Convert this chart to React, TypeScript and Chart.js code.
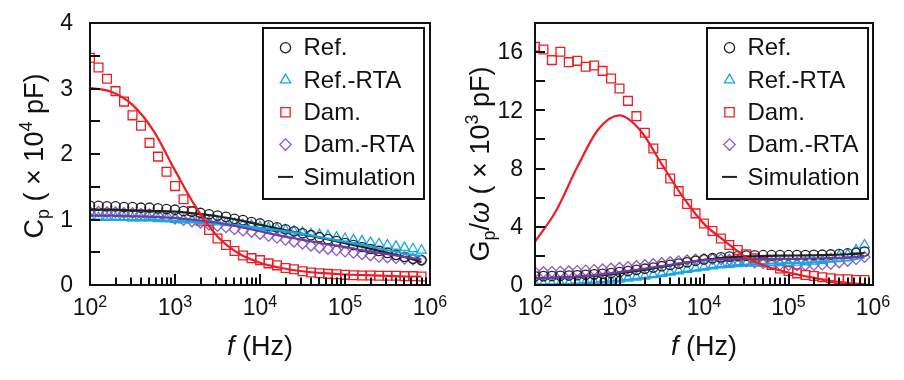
import React, { useEffect, useRef } from "react";
import { Chart, registerables } from "chart.js";

Chart.register(...registerables);

// ---------- data ----------
// measured frequencies (Hz), 10 points per decade
const FREQ = [
  100, 125.9, 158.5, 199.5, 251.2, 316.2, 398.1, 501.2, 631.0, 794.3,
  1000, 1259, 1585, 1995, 2512, 3162, 3981, 5012, 6310, 7943,
  10000, 12589, 15849, 19953, 25119, 31623, 39811, 50119, 63096, 79433,
  100000, 125893, 158489, 199526, 251189, 316228, 398107, 501187, 630957, 794328,
];
// simulation curve frequencies (Hz)
const LINE_FREQ = [
  100, 177.8, 316.2, 562.3, 1000, 1778, 3162, 5623, 10000, 17783, 31623, 56234,
  100000, 177828, 316228, 562341, 794328,
];

// Left panel: Cp (x10^4 pF)
const CP_REF = [
  1.21, 1.21, 1.2, 1.2, 1.19, 1.19, 1.18, 1.18, 1.17, 1.16,
  1.15, 1.13, 1.12, 1.1, 1.08, 1.06, 1.04, 1.01, 0.99, 0.96,
  0.94, 0.91, 0.88, 0.85, 0.82, 0.79, 0.76, 0.73, 0.7, 0.67,
  0.64, 0.61, 0.58, 0.55, 0.52, 0.49, 0.46, 0.43, 0.4, 0.38,
];
const CP_REF_RTA = [
  1.03, 1.03, 1.03, 1.03, 1.03, 1.02, 1.02, 1.02, 1.01, 1.01,
  1.0, 0.99, 0.99, 0.98, 0.97, 0.96, 0.95, 0.94, 0.92, 0.91,
  0.89, 0.87, 0.86, 0.84, 0.82, 0.8, 0.78, 0.77, 0.75, 0.73,
  0.71, 0.69, 0.67, 0.65, 0.63, 0.61, 0.59, 0.57, 0.55, 0.53,
];
const CP_DAM = [
  3.47, 3.32, 3.15, 2.96, 2.8, 2.59, 2.43, 2.17, 1.96, 1.73,
  1.51, 1.31, 1.13, 0.98, 0.84, 0.71, 0.61, 0.52, 0.45, 0.41,
  0.38, 0.33, 0.3, 0.26, 0.24, 0.21, 0.19, 0.18, 0.17, 0.165,
  0.155, 0.15, 0.145, 0.145, 0.14, 0.14, 0.14, 0.135, 0.135, 0.13,
];
const CP_DAM_RTA = [
  1.12, 1.12, 1.11, 1.11, 1.1, 1.1, 1.09, 1.08, 1.06, 1.04,
  1.01, 0.99, 0.97, 0.95, 0.92, 0.9, 0.88, 0.85, 0.83, 0.81,
  0.78, 0.75, 0.72, 0.69, 0.66, 0.63, 0.6, 0.57, 0.55, 0.53,
  0.51, 0.49, 0.47, 0.45, 0.43, 0.42, 0.41, 0.4, 0.39, 0.38,
];
const CP_SIM_REF = [1.15, 1.15, 1.14, 1.13, 1.12, 1.09, 1.05, 0.99, 0.92, 0.85, 0.78, 0.71, 0.64, 0.57, 0.49, 0.41, 0.35];
const CP_SIM_REF_RTA = [1.0, 1.0, 0.99, 0.99, 0.98, 0.96, 0.94, 0.91, 0.87, 0.83, 0.78, 0.72, 0.66, 0.6, 0.53, 0.47, 0.44];
const CP_SIM_DAM = [3.01, 2.95, 2.75, 2.35, 1.75, 1.18, 0.74, 0.48, 0.34, 0.26, 0.21, 0.18, 0.16, 0.15, 0.14, 0.13, 0.13];
const CP_SIM_DAM_RTA = [1.06, 1.06, 1.05, 1.04, 1.02, 0.99, 0.95, 0.89, 0.82, 0.75, 0.69, 0.63, 0.58, 0.52, 0.47, 0.42, 0.39];

// Right panel: Gp/omega (x10^3 pF)
const GW_REF = [
  0.6, 0.61, 0.62, 0.63, 0.65, 0.67, 0.7, 0.73, 0.77, 0.82,
  0.89, 0.96, 1.04, 1.12, 1.2, 1.29, 1.38, 1.47, 1.56, 1.66,
  1.76, 1.84, 1.9, 1.95, 1.99, 2.02, 2.04, 2.05, 2.05, 2.05,
  2.05, 2.06, 2.06, 2.07, 2.08, 2.1, 2.13, 2.17, 2.22, 2.3,
];
const GW_REF_RTA = [
  0.05, 0.07, 0.09, 0.11, 0.13, 0.16, 0.19, 0.23, 0.27, 0.32,
  0.38, 0.45, 0.52, 0.6, 0.69, 0.78, 0.87, 0.96, 1.05, 1.14,
  1.22, 1.3, 1.36, 1.41, 1.45, 1.48, 1.5, 1.51, 1.52, 1.52,
  1.53, 1.55, 1.58, 1.62, 1.68, 1.8, 2.0, 2.1, 2.4, 2.75,
];
const GW_DAM = [
  16.36, 16.18, 15.45, 16.02, 15.31, 15.4, 14.99, 15.08, 14.71, 14.19,
  13.5, 12.65, 11.6, 10.46, 9.38, 8.31, 7.32, 6.45, 5.56, 4.92,
  4.23, 3.71, 3.2, 2.75, 2.4, 2.11, 1.83, 1.6, 1.37, 1.14,
  0.96, 0.8, 0.69, 0.62, 0.53, 0.46, 0.39, 0.39, 0.34, 0.34,
];
const GW_DAM_RTA = [
  0.88, 0.89, 0.9, 0.92, 0.94, 0.97, 1.0, 1.04, 1.08, 1.13,
  1.18, 1.24, 1.3, 1.37, 1.44, 1.51, 1.58, 1.64, 1.7, 1.75,
  1.78, 1.78, 1.76, 1.73, 1.68, 1.62, 1.55, 1.49, 1.44, 1.4,
  1.37, 1.36, 1.36, 1.37, 1.4, 1.45, 1.55, 1.65, 1.78, 1.92,
];
const GW_SIM_REF = [0.47, 0.5, 0.56, 0.65, 0.8, 1.0, 1.25, 1.5, 1.72, 1.88, 1.96, 2.0, 2.02, 2.04, 2.07, 2.13, 2.2];
const GW_SIM_REF_RTA = [0.02, 0.05, 0.1, 0.18, 0.3, 0.45, 0.65, 0.88, 1.1, 1.28, 1.4, 1.46, 1.5, 1.53, 1.6, 1.72, 1.9];
const GW_SIM_DAM = [2.97, 5.1, 8.1, 10.7, 11.65, 10.6, 8.3, 6.05, 4.2, 3.0, 1.9, 1.25, 0.85, 0.55, 0.28, 0.12, 0.05];
const GW_SIM_DAM_RTA = [0.46, 0.5, 0.58, 0.7, 0.88, 1.08, 1.3, 1.52, 1.7, 1.78, 1.8, 1.8, 1.8, 1.82, 1.85, 1.9, 1.97];

const LEGEND_LABELS = ["Ref.", "Ref.-RTA", "Dam.", "Dam.-RTA", "Simulation"];
const X_TICK_VALUES = [100, 1000, 10000, 100000, 1000000];
const X_TICK_EXPONENTS = ["2", "3", "4", "5", "6"];
const X_TICK_BASE = "10";
const LEFT_Y_TICKS = [0, 1, 2, 3, 4];
const LEFT_Y_MINOR = [0.5, 1.5, 2.5, 3.5];
const RIGHT_Y_TICKS = [0, 4, 8, 12, 16];
const RIGHT_Y_MINOR = [2, 6, 10, 14];

// ---------- styles ----------
const FONT = '"Liberation Sans", Arial, Helvetica, sans-serif';
const BLACK = "#231f20";
const CYAN = "#17a6e2";
const RED = "#ee1c25";
const PURPLE_PT = "#8a5bbd";
const PURPLE_LINE = "#6e3b9f";
const CLEAR = "rgba(0,0,0,0)";

type Part = { t: string; size: number; italic?: boolean; dy?: number };
const fontOf = (p: Part) => `${p.italic ? "italic " : ""}${p.size}px ${FONT}`;
function partsWidth(ctx: CanvasRenderingContext2D, parts: Part[]) {
  let w = 0;
  for (const p of parts) {
    ctx.font = fontOf(p);
    w += ctx.measureText(p.t).width;
  }
  return w;
}
function drawParts(ctx: CanvasRenderingContext2D, parts: Part[], x: number, y: number) {
  for (const p of parts) {
    ctx.font = fontOf(p);
    ctx.fillText(p.t, x, y + (p.dy || 0));
    x += ctx.measureText(p.t).width;
  }
}

function pts(xs: number[], ys: number[]) {
  return ys.map((y, i) => ({ x: xs[i], y }));
}

const MARKERS = [
  { style: "circle", color: BLACK, r: 4.7 },
  { style: "triangle", color: CYAN, r: 5.5 },
  { style: "rect", color: RED, r: 6.2 },
  { style: "rectRot", color: PURPLE_PT, r: 5.3 },
];

function markerDs(label: string, data: number[], m: any) {
  return {
    label,
    data: pts(FREQ, data),
    showLine: false,
    pointStyle: m.style,
    pointRadius: m.r,
    pointBorderWidth: 1.3,
    pointBorderColor: m.color,
    pointBackgroundColor: CLEAR,
    borderColor: m.color,
    backgroundColor: CLEAR,
    order: 10,
  };
}
function lineDs(label: string, data: number[], color: string, order: number) {
  return {
    label,
    data: pts(LINE_FREQ, data),
    pointRadius: 0,
    borderColor: color,
    backgroundColor: CLEAR,
    borderWidth: 2.2,
    cubicInterpolationMode: "monotone",
    fill: false,
    order,
  };
}

type PanelSpec = {
  padding: { left: number; right: number; top: number; bottom: number };
  yMax: number;
  yTicks: number[];
  yMinor: number[];
  yLabelRight: number;
  title: Part[];
  titleX: number;
  titleY: number;
  legendInsetRight: number;
  markers: number[][];
  lines: number[][];
};

const LEFT: PanelSpec = {
  padding: { left: 90, right: 22, top: 23, bottom: 95 },
  yMax: 4,
  yTicks: LEFT_Y_TICKS,
  yMinor: LEFT_Y_MINOR,
  yLabelRight: 73,
  title: [
    { t: "C", size: 27 },
    { t: "p", size: 18, dy: 6 },
    { t: " ( \u00d7 10", size: 27 },
    { t: "4", size: 18, dy: -11 },
    { t: " pF)", size: 27 },
  ],
  titleX: 33,
  titleY: 156,
  legendInsetRight: 6,
  markers: [CP_REF, CP_REF_RTA, CP_DAM, CP_DAM_RTA],
  lines: [CP_SIM_REF, CP_SIM_REF_RTA, CP_SIM_DAM, CP_SIM_DAM_RTA],
};

const RIGHT: PanelSpec = {
  padding: { left: 83, right: 31, top: 23, bottom: 95 },
  yMax: 18,
  yTicks: RIGHT_Y_TICKS,
  yMinor: RIGHT_Y_MINOR,
  yLabelRight: 71,
  title: [
    { t: "G", size: 27 },
    { t: "p", size: 18, dy: 6 },
    { t: "/", size: 27 },
    { t: "\u03c9", size: 27, italic: true },
    { t: " ( \u00d7 10", size: 27 },
    { t: "3", size: 18, dy: -11 },
    { t: " pF)", size: 27 },
  ],
  titleX: 27,
  titleY: 164,
  legendInsetRight: 5,
  markers: [GW_REF, GW_REF_RTA, GW_DAM, GW_DAM_RTA],
  lines: [GW_SIM_REF, GW_SIM_REF_RTA, GW_SIM_DAM, GW_SIM_DAM_RTA],
};

function drawMarker(ctx: CanvasRenderingContext2D, style: string, x: number, y: number, r: number) {
  ctx.beginPath();
  if (style === "circle") {
    ctx.arc(x, y, r, 0, Math.PI * 2);
  } else if (style === "rect") {
    const s = r / Math.SQRT2;
    ctx.rect(x - s, y - s, 2 * s, 2 * s);
  } else if (style === "rectRot") {
    ctx.moveTo(x, y - r);
    ctx.lineTo(x + r, y);
    ctx.lineTo(x, y + r);
    ctx.lineTo(x - r, y);
    ctx.closePath();
  } else if (style === "triangle") {
    const a = (Math.PI * 2) / 3;
    ctx.moveTo(x, y - r);
    ctx.lineTo(x + Math.sin(a) * r, y - Math.cos(a) * r);
    ctx.lineTo(x - Math.sin(a) * r, y - Math.cos(a) * r);
    ctx.closePath();
  }
  ctx.stroke();
}

function makeDecor(p: PanelSpec) {
  return {
    id: "decor",
    afterDraw(chart: any) {
      const ctx: CanvasRenderingContext2D = chart.ctx;
      const a = chart.chartArea;
      const xs = chart.scales.x;
      const ys = chart.scales.y;
      ctx.save();
      ctx.strokeStyle = "#111";
      ctx.fillStyle = "#111";
      ctx.lineWidth = 2;
      // x ticks (inward)
      for (let e = 2; e <= 6; e++) {
        for (let m = 1; m <= 9; m++) {
          if (e === 6 && m > 1) break;
          const x = Math.round(xs.getPixelForValue(m * Math.pow(10, e)));
          const len = m === 1 ? 11 : 7.5;
          ctx.beginPath();
          ctx.moveTo(x, a.bottom);
          ctx.lineTo(x, a.bottom - len);
          ctx.stroke();
        }
      }
      // y ticks (inward)
      for (const v of [...p.yTicks, ...p.yMinor]) {
        const y = Math.round(ys.getPixelForValue(v));
        ctx.beginPath();
        ctx.moveTo(a.left, y);
        ctx.lineTo(a.left + 10, y);
        ctx.stroke();
      }
      // frame
      ctx.strokeRect(a.left, a.top, a.right - a.left, a.bottom - a.top);

      // y tick labels
      ctx.font = `23px ${FONT}`;
      ctx.textAlign = "right";
      ctx.textBaseline = "middle";
      for (const v of p.yTicks) {
        ctx.fillText(String(v), p.yLabelRight, ys.getPixelForValue(v) + 1);
      }
      // x tick labels
      ctx.textAlign = "left";
      ctx.textBaseline = "alphabetic";
      X_TICK_VALUES.forEach((v, i) => {
        const parts: Part[] = [
          { t: X_TICK_BASE, size: 23 },
          { t: X_TICK_EXPONENTS[i], size: 16, dy: -8 },
        ];
        const w = partsWidth(ctx, parts);
        drawParts(ctx, parts, xs.getPixelForValue(v) - w / 2, 315);
      });
      // x title
      const xt: Part[] = [
        { t: "f", size: 27, italic: true },
        { t: " (Hz)", size: 27 },
      ];
      const xw = partsWidth(ctx, xt);
      drawParts(ctx, xt, (a.left + a.right) / 2 - xw / 2, 355);
      // y title
      ctx.save();
      ctx.translate(p.titleX, p.titleY);
      ctx.rotate(-Math.PI / 2);
      const tw = partsWidth(ctx, p.title);
      drawParts(ctx, p.title, -tw / 2, 27 * 0.36);
      ctx.restore();

      // legend
      const bw = 161;
      const bh = 171;
      const bx = a.right - p.legendInsetRight - bw;
      const by = a.top + 5;
      ctx.fillStyle = "#fff";
      ctx.fillRect(bx, by, bw, bh);
      ctx.strokeStyle = "#111";
      ctx.lineWidth = 2;
      ctx.strokeRect(bx, by, bw, bh);
      ctx.font = `24px ${FONT}`;
      ctx.textBaseline = "middle";
      ctx.textAlign = "left";
      LEGEND_LABELS.forEach((label, i) => {
        const cy = by + 19.7 + i * 32.3;
        const mx = bx + 22.5;
        if (i < 4) {
          const m = MARKERS[i];
          ctx.strokeStyle = m.color;
          ctx.lineWidth = 1.3;
          drawMarker(ctx, m.style, mx, cy, m.r + 0.4);
        } else {
          ctx.strokeStyle = BLACK;
          ctx.lineWidth = 2;
          ctx.beginPath();
          ctx.moveTo(mx - 7.5, cy);
          ctx.lineTo(mx + 7.5, cy);
          ctx.stroke();
        }
        ctx.fillStyle = "#111";
        ctx.fillText(label, bx + 40.5, cy + 1);
      });
      ctx.restore();
    },
  };
}

function buildConfig(p: PanelSpec): any {
  const datasets: any[] = [];
  p.markers.forEach((d, i) => datasets.push(markerDs(LEGEND_LABELS[i], d, MARKERS[i])));
  datasets.push(lineDs("Simulation Ref.", p.lines[0], BLACK, 3));
  datasets.push(lineDs("Simulation Ref.-RTA", p.lines[1], CYAN, 2));
  datasets.push(lineDs("Simulation Dam.", p.lines[2], RED, 0));
  datasets.push(lineDs("Simulation Dam.-RTA", p.lines[3], PURPLE_LINE, 1));
  return {
    type: "line",
    data: { datasets },
    options: {
      animation: false,
      responsive: false,
      devicePixelRatio: 1,
      events: [],
      layout: { padding: p.padding },
      plugins: { legend: { display: false }, tooltip: { enabled: false } },
      scales: {
        x: { type: "logarithmic", min: 100, max: 1000000, display: false },
        y: { type: "linear", min: 0, max: p.yMax, display: false },
      },
    },
    plugins: [makeDecor(p)],
  };
}

function Panel({ spec, left }: { spec: PanelSpec; left: number }) {
  const ref = useRef<HTMLCanvasElement>(null);
  useEffect(() => {
    const chart = new Chart(ref.current as HTMLCanvasElement, buildConfig(spec));
    return () => chart.destroy();
  }, [spec]);
  return (
    <canvas
      ref={ref}
      width={452}
      height={380}
      style={{ position: "absolute", left, top: 0, width: 452, height: 380 }}
    />
  );
}

export default function App() {
  return (
    <div style={{ position: "absolute", left: 0, top: 0, width: 904, height: 380, background: "#fff" }}>
      <Panel spec={LEFT} left={0} />
      <Panel spec={RIGHT} left={452} />
    </div>
  );
}
